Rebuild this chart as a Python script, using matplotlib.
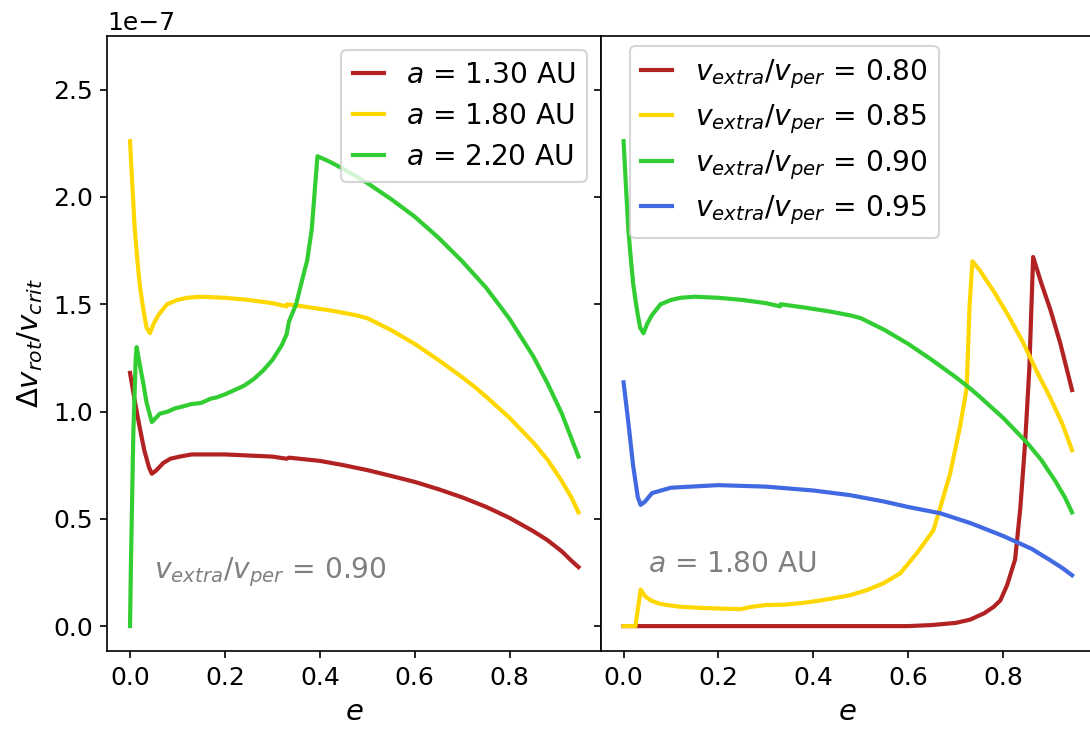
import numpy as np
import matplotlib.pyplot as plt

plt.rcParams['font.size'] = 12

# ---- left panel: v_extra/v_per = 0.90, different semi-major axes ----
e_a13 = [0, 0.01, 0.02, 0.03, 0.04, 0.046, 0.055, 0.07, 0.085, 0.105, 0.13, 0.2, 0.3, 0.33, 0.335,
         0.4, 0.45, 0.5, 0.55, 0.6, 0.65, 0.7, 0.75, 0.8, 0.85, 0.88, 0.91, 0.93, 0.945]
v_a13 = [1.18, 1.05, 0.93, 0.82, 0.74, 0.71, 0.725, 0.76, 0.78, 0.79, 0.80, 0.80, 0.79, 0.78, 0.785,
         0.77, 0.75, 0.727, 0.70, 0.672, 0.638, 0.60, 0.556, 0.504, 0.442, 0.40, 0.348, 0.305, 0.275]

# same curve used for a=1.80 AU (left) and v_extra/v_per=0.90 (right)
e_a18 = [0, 0.005, 0.01, 0.015, 0.02, 0.025, 0.03, 0.035, 0.042, 0.05, 0.06, 0.078, 0.1, 0.12,
         0.15, 0.2, 0.25, 0.3, 0.33, 0.331, 0.38, 0.43, 0.478, 0.5, 0.55, 0.6, 0.65, 0.7, 0.73,
         0.75, 0.8, 0.85, 0.88, 0.91, 0.93, 0.945]
v_a18 = [2.26, 2.05, 1.85, 1.72, 1.60, 1.52, 1.45, 1.39, 1.365, 1.41, 1.45, 1.50, 1.52, 1.53,
         1.535, 1.53, 1.52, 1.505, 1.49, 1.50, 1.485, 1.468, 1.448, 1.435, 1.38, 1.315, 1.24, 1.16, 1.108,
         1.07, 0.97, 0.855, 0.775, 0.675, 0.60, 0.53]

e_a22 = [0, 0.002, 0.007, 0.012, 0.014, 0.018, 0.028, 0.035, 0.046, 0.063, 0.08, 0.095, 0.105, 0.13,
         0.15, 0.17, 0.183, 0.2, 0.22, 0.24, 0.26, 0.28, 0.3, 0.32, 0.33, 0.335, 0.35, 0.368, 0.373,
         0.383, 0.39, 0.395, 0.42, 0.45, 0.5, 0.55, 0.6, 0.65, 0.7, 0.75, 0.8, 0.85, 0.88, 0.91,
         0.93, 0.945]
v_a22 = [0.0, 0.3, 0.9, 1.25, 1.30, 1.25, 1.13, 1.04, 0.951, 0.99, 1.00, 1.015, 1.02, 1.035,
         1.04, 1.06, 1.066, 1.08, 1.10, 1.12, 1.15, 1.19, 1.24, 1.31, 1.36, 1.42, 1.50, 1.66, 1.70,
         1.85, 2.05, 2.19, 2.165, 2.13, 2.065, 1.99, 1.908, 1.81, 1.70, 1.578, 1.431, 1.256, 1.13, 0.99,
         0.875, 0.79]

# ---- right panel: a = 1.80 AU, different v_extra/v_per ----
e_v80 = [0, 0.025, 0.1, 0.3, 0.5, 0.6, 0.65, 0.7, 0.73, 0.76, 0.78, 0.794, 0.808, 0.825,
         0.836, 0.846, 0.855, 0.863, 0.88, 0.9, 0.92, 0.945]
v_v80 = [0, 0, 0, 0, 0, 0.0, 0.005, 0.015, 0.03, 0.06, 0.09, 0.12, 0.19, 0.31,
         0.55, 0.85, 1.20, 1.72, 1.60, 1.47, 1.32, 1.10]

e_v85 = [0, 0.025, 0.036, 0.045, 0.057, 0.075, 0.092, 0.12, 0.162, 0.2, 0.246, 0.27, 0.30, 0.34,
         0.373, 0.41, 0.443, 0.478, 0.513, 0.548, 0.583, 0.618, 0.653, 0.667, 0.688, 0.709, 0.723,
         0.729, 0.735, 0.75, 0.78, 0.81, 0.84, 0.87, 0.9, 0.925, 0.945]
v_v85 = [0, 0, 0.17, 0.14, 0.12, 0.105, 0.098, 0.09, 0.085, 0.082, 0.079, 0.09, 0.098, 0.10,
         0.107, 0.118, 0.13, 0.144, 0.168, 0.20, 0.246, 0.34, 0.447, 0.55, 0.71, 0.93, 1.11,
         1.49, 1.70, 1.66, 1.56, 1.45, 1.33, 1.19, 1.06, 0.94, 0.82]

e_v95 = [0, 0.01, 0.02, 0.03, 0.036, 0.045, 0.06, 0.1, 0.2, 0.3, 0.4, 0.478, 0.55, 0.6, 0.667,
         0.731, 0.8, 0.86, 0.899, 0.925, 0.945]
v_v95 = [1.136, 0.95, 0.75, 0.60, 0.565, 0.58, 0.62, 0.645, 0.657, 0.65, 0.632, 0.61, 0.58, 0.555, 0.526,
         0.48, 0.42, 0.36, 0.307, 0.27, 0.237]

scale = 1e-7
lw = 2

fig, (ax1, ax2) = plt.subplots(1, 2, sharey=True, figsize=(7.2667, 4.86))
ax1.set_position([0.0986, 0.107, 0.4528, 0.8436])
ax2.set_position([0.5514, 0.107, 0.4528, 0.8436])

ax1.plot(e_a13, np.array(v_a13) * scale, color='firebrick', lw=lw, label=r'$a$ = 1.30 AU')
ax1.plot(e_a18, np.array(v_a18) * scale, color='gold', lw=lw, label=r'$a$ = 1.80 AU')
ax1.plot(e_a22, np.array(v_a22) * scale, color='limegreen', lw=lw, label=r'$a$ = 2.20 AU')

ax2.plot(e_v80, np.array(v_v80) * scale, color='firebrick', lw=lw,
         label=r'$v_{extra}/v_{per}$ = 0.80')
ax2.plot(e_v85, np.array(v_v85) * scale, color='gold', lw=lw,
         label=r'$v_{extra}/v_{per}$ = 0.85')
ax2.plot(e_a18, np.array(v_a18) * scale, color='limegreen', lw=lw,
         label=r'$v_{extra}/v_{per}$ = 0.90')
ax2.plot(e_v95, np.array(v_v95) * scale, color='royalblue', lw=lw,
         label=r'$v_{extra}/v_{per}$ = 0.95')

ax1.set_ylim(-0.116e-7, 2.75e-7)
for ax in (ax1, ax2):
    ax.set_xlim(-0.0475, 0.9925)
    ax.set_xlabel(r'$e$', fontsize=14)
    ax.set_xticks([0, 0.2, 0.4, 0.6, 0.8])

ax1.set_ylabel(r'$\Delta v_{rot}/v_{crit}$', fontsize=14)

ax1.text(0.095, 0.118, r'$v_{extra}/v_{per}$ = 0.90', transform=ax1.transAxes,
         fontsize=13.5, color='gray')
ax2.text(0.095, 0.128, r'$a$ = 1.80 AU', transform=ax2.transAxes,
         fontsize=13.5, color='gray')

ax1.legend(loc='upper right', fontsize=13.5, handlelength=1.1, labelspacing=0.45)
ax2.legend(loc='upper left', fontsize=13.5, handlelength=1.1, labelspacing=0.42,
           bbox_to_anchor=(0.059, 0.984), borderaxespad=0)

fig.savefig('out.png', dpi=150)
